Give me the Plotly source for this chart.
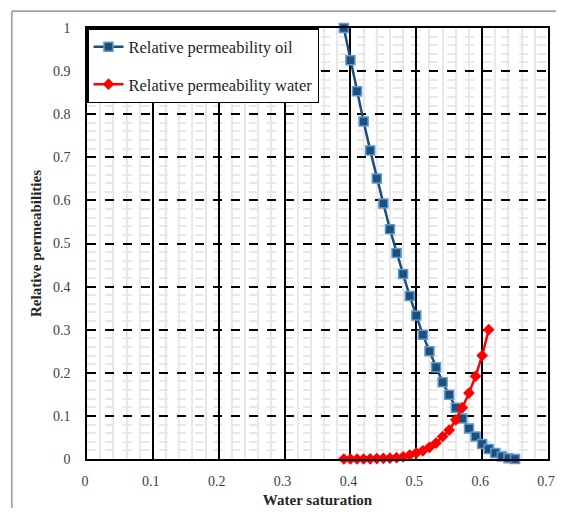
import plotly.graph_objects as go

oil_sw = [0.39, 0.40, 0.41, 0.42, 0.43, 0.44, 0.45, 0.46, 0.47, 0.48, 0.49, 0.50, 0.51,
          0.52, 0.53, 0.54, 0.55, 0.56, 0.57, 0.58, 0.59, 0.60, 0.61, 0.62, 0.63, 0.64, 0.65]
oil_kr = [1.0, 0.925, 0.853, 0.783, 0.716, 0.651, 0.593, 0.533, 0.478, 0.429, 0.378, 0.333, 0.288,
          0.25, 0.213, 0.178, 0.149, 0.119, 0.094, 0.071, 0.052, 0.035, 0.023, 0.014, 0.006, 0.002, 0.0]

water_sw = [0.39, 0.40, 0.41, 0.42, 0.43, 0.44, 0.45, 0.46, 0.47, 0.48, 0.49, 0.50,
            0.51, 0.52, 0.53, 0.54, 0.55, 0.56, 0.57, 0.58, 0.59, 0.60, 0.61]
water_kr = [0.0, 0.0, 0.0, 0.0, 0.0005, 0.001, 0.0015, 0.002, 0.003, 0.005, 0.009, 0.014,
            0.019, 0.027, 0.037, 0.052, 0.067, 0.091, 0.119, 0.153, 0.192, 0.240, 0.300]

x_range = [0, 0.7]
y_range = [0, 1]
major_step = 0.1
minor_step = 0.02

FONT = "Liberation Serif"

fig = go.Figure()
fig.add_trace(go.Scatter(
    x=oil_sw, y=oil_kr, mode="lines+markers", name="Relative permeability oil",
    line=dict(color="#1F4E79", width=2.5),
    marker=dict(symbol="square", size=9, color="#1F4E79",
                line=dict(color="#5B9BD5", width=1.5)),
    cliponaxis=False, legendgroup="a"))
fig.add_trace(go.Scatter(
    x=water_sw, y=water_kr, mode="lines+markers", name="Relative permeability water",
    line=dict(color="#FF0000", width=2.5),
    marker=dict(symbol="diamond", size=9, color="#FF0000"),
    cliponaxis=False, legendgroup="b"))

axis_common = dict(
    showline=True, linecolor="black", linewidth=1.5, mirror=True,
    ticks="", zeroline=False, automargin=False, ticklabeloverflow="allow",
    tickmode="linear", tick0=0, dtick=major_step,
    tickfont=dict(family=FONT, size=14, color="#404040"),
    minor=dict(tickmode="linear", tick0=0, dtick=minor_step,
               showgrid=True, gridcolor="#E8E8E8", gridwidth=2),
    showgrid=True, gridcolor="black", gridwidth=1.5,
)

fig.update_xaxes(
    range=x_range, ticklabelstandoff=8, ticklabelshift=-2,
    title=dict(text="<b>Water saturation</b>", font=dict(family=FONT, size=15, color="#262626"),
               standoff=11),
    **axis_common)
fig.update_yaxes(
    range=y_range, griddash="dash", ticklabelstandoff=12,
    title=dict(text="<b>Relative permeabilities</b>", font=dict(family=FONT, size=15, color="#262626"),
               standoff=8),
    **axis_common)

# page body has an 8px margin; size the figure so the plot lands where the reference has it
fig.update_layout(
    width=548, height=500,
    margin=dict(l=79, r=8, t=20, b=49),
    paper_bgcolor="white", plot_bgcolor="white",
    showlegend=True,
    legend=dict(x=0, y=1, xanchor="left", yanchor="top",
                bgcolor="white", bordercolor="black", borderwidth=1.5,
                font=dict(family=FONT, size=16.5, color="#262626"),
                tracegroupgap=13),
    shapes=[
        dict(type="line", xref="paper", yref="paper", x0=-0.163, x1=1.3, y0=1.039, y1=1.039,
             line=dict(color="#7F7F7F", width=1.2), layer="below"),
        dict(type="line", xref="paper", yref="paper", x0=-0.163, x1=-0.163, y0=-0.3, y1=1.039,
             line=dict(color="#7F7F7F", width=1.2), layer="below"),
    ],
)

fig.write_html("out.html")
